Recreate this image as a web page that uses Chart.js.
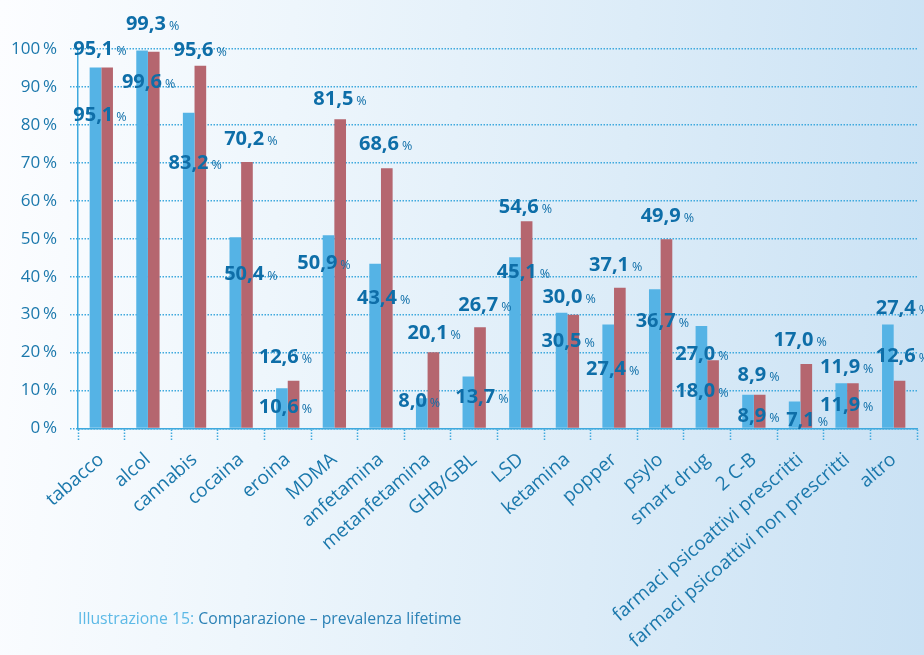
<!DOCTYPE html>
<html lang="it">
<head>
<meta charset="utf-8">
<title>Comparazione – prevalenza lifetime</title>
<script src="https://cdn.jsdelivr.net/npm/chart.js@4.4.1/dist/chart.umd.min.js"></script>
<style>
  html, body { margin: 0; padding: 0; }
  #wrap {
    position: relative;
    width: 924px;
    height: 655px;
    overflow: hidden;
    background: linear-gradient(95deg, #fcfdff 0%, #eef6fc 30%, #dcecf8 65%, #c9e1f4 100%);
  }
  #chart { position: absolute; left: 0; top: 0; }
  #caption {
    position: absolute;
    left: 78px;
    top: 607px;
    font-family: "Open Sans", sans-serif;
    font-size: 15.8px;
    color: #2c82b6;
    white-space: nowrap;
  }
  #caption span { color: #5cb9e6; }
</style>
</head>
<body>
<div id="wrap">
  <canvas id="chart" width="924" height="655"></canvas>
  <div id="caption"><span>Illustrazione 15:</span> Comparazione – prevalenza lifetime</div>
</div>
<script>
// sostanze
var categories = ['tabacco', 'alcol', 'cannabis', 'cocaina', 'eroina', 'MDMA', 'anfetamina',
  'metanfetamina', 'GHB/GBL', 'LSD', 'ketamina', 'popper', 'psylo', 'smart drug', '2 C-B',
  'farmaci psicoattivi prescritti', 'farmaci psicoattivi non prescritti', 'altro'];

// prevalenza lifetime (%) - serie blu e serie rossa
var prevalenzaA = [95.1, 99.6, 83.2, 50.4, 10.6, 50.9, 43.4, 8.0, 13.7, 45.1, 30.5, 27.4, 36.7, 27.0, 8.9, 7.1, 11.9, 27.4];
var prevalenzaB = [95.1, 99.3, 95.6, 70.2, 12.6, 81.5, 68.6, 20.1, 26.7, 54.6, 30.0, 37.1, 49.9, 18.0, 8.9, 17.0, 11.9, 12.6];

var yTicks = [0, 10, 20, 30, 40, 50, 60, 70, 80, 90, 100];

// spostamento [dx, dy] delle etichette rispetto alla cima della barra
var shiftA = [[-8,46],[-6,30],[-6,49],[3,36],[-9,18],[-17,27],[-4,33],[-15,2],[1,19],[-4,14],
  [-6,27],[-8,43],[-5,31],[-12,27],[-2,20],[0,17],[-7,21],[2,-18]];
var shiftB = [[-8,-20],[-2,-29],[-1,-17],[3,-24],[-9,-25],[-1,-21],[-2,-25],[0,-20],[4,-23],[-2,-15],
  [-5,-19],[-5,-24],[0,-24],[-12,30],[-2,-21],[-7,-25],[-7,-17],[2,-26]];

var textBlue = '#1b78ac';
var dotBlue = '#3fa9de';

function drawValue(ctx, value, x, y){
  var num = value.toFixed(1).replace('.', ',');
  ctx.font = 'bold 20px "Open Sans"';
  var w = ctx.measureText(num).width;
  ctx.textAlign = 'center';
  ctx.fillText(num, x, y + 7);
  ctx.font = '12.5px "Open Sans"';
  ctx.textAlign = 'left';
  ctx.fillText('%', x + w / 2 + 3, y + 7);
}

var valueLabels = {
  id: 'valueLabels',
  afterDatasetsDraw: function(chart){
    var ctx = chart.ctx;
    var barsA = chart.getDatasetMeta(0).data;
    var barsB = chart.getDatasetMeta(1).data;
    ctx.save();
    ctx.fillStyle = '#0e6ea8';
    ctx.textBaseline = 'alphabetic';
    for (var i = 0; i < categories.length; i++){
      var cx = (barsA[i].x + barsB[i].x) / 2;
      drawValue(ctx, prevalenzaA[i], cx + shiftA[i][0], barsA[i].y + shiftA[i][1]);
      drawValue(ctx, prevalenzaB[i], cx + shiftB[i][0], barsB[i].y + shiftB[i][1]);
    }
    ctx.restore();
  }
};

var ctx = document.getElementById('chart').getContext('2d');
var myChart = new Chart(ctx, {
  type: 'bar',
  data: {
    labels: categories,
    datasets: [{
      label: 'A',
      data: prevalenzaA,
      backgroundColor: '#55b3e5',
      categoryPercentage: 0.5,
      barPercentage: 1.0
    }, {
      label: 'B',
      data: prevalenzaB,
      backgroundColor: '#b5666f',
      categoryPercentage: 0.5,
      barPercentage: 1.0
    }]
  },
  options: {
    responsive: false,
    animation: false,
    devicePixelRatio: 1,
    layout: { padding: { top: 49, right: 7, left: 0, bottom: 0 } },
    plugins: {
      legend: { display: false },
      tooltip: { enabled: false }
    },
    scales: {
      x: {
        offset: true,
        afterFit: function(scale){ scale.height = 226.5; },
        grid: {
          offset: true,
          drawOnChartArea: false,
          drawTicks: true,
          tickLength: 12,
          tickColor: dotBlue,
          tickWidth: 1.5,
          tickBorderDash: [1.5, 1.5]
        },
        border: { display: true, color: dotBlue, width: 1.5, dash: [1.5, 1.5] },
        ticks: {
          autoSkip: false,
          minRotation: 41,
          maxRotation: 41,
          padding: 8,
          color: textBlue,
          font: { family: 'Open Sans', size: 19 }
        }
      },
      y: {
        min: 0,
        max: 100,
        afterFit: function(scale){ scale.width = 78; },
        afterBuildTicks: function(scale){
          scale.ticks = yTicks.map(function(v){ return { value: v }; });
        },
        grid: {
          color: dotBlue,
          lineWidth: 1.5,
          borderDash: [1.5, 1.5],
          drawTicks: true,
          tickLength: 8,
          tickColor: dotBlue,
          tickBorderDash: [1.5, 1.5]
        },
        border: { display: true, color: dotBlue, width: 1.5, dash: [1.5, 1.5] },
        ticks: {
          padding: 13,
          color: textBlue,
          font: { family: 'Open Sans', size: 17 },
          callback: function(v){ return v + '\u2009%'; }
        }
      }
    }
  },
  plugins: [valueLabels]
});
</script>
</body>
</html>
